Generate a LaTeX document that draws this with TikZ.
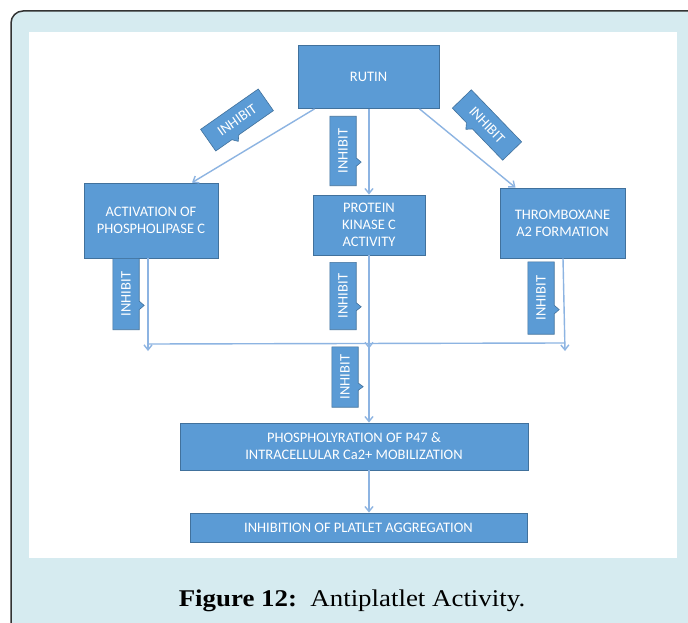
\documentclass[tikz,border=0pt]{standalone}
\usepackage{fontspec}
\setmainfont{Liberation Serif}
\newfontfamily\boxfont{Carlito}
\newfontfamily\capfont[FakeStretch=1.12]{Liberation Serif}
\usetikzlibrary{calc,arrows.meta}

\definecolor{panelbg}{HTML}{D6EBF0}
\definecolor{boxfill}{HTML}{5B9BD5}
\definecolor{boxline}{HTML}{41719C}
\definecolor{flowline}{HTML}{8DB4E2}

\tikzset{
  stepbox/.style={draw=boxline, fill=boxfill, line width=0.8pt, text=white,
    font=\boxfont\fontsize{14.5}{17}\selectfont, align=center, inner sep=2pt},
  inhgeom/.style={minimum width=#1, minimum height=26pt, inner sep=0pt,
    font=\boxfont\fontsize{14.5}{16}\selectfont, text=white},
  inhshape/.style={draw=boxline, fill=boxfill, line width=0.6pt},
  flow/.style={draw=flowline, line width=1.4pt},
  flowarrow/.style={flow, -{Straight Barb[length=5pt,width=8pt]}},
}

% an INHIBIT callout: name, centre, rotation, length
\newcommand\inhibitcallout[4]{%
  \coordinate (#1) at (#2);
  \node[inhgeom=#4, rotate=#3] (#1-box) at (#1) {};
  \draw[inhshape]
    (#1-box.south west)
    -- ($(#1-box.south west)!0.28!(#1-box.south east)$)
    -- ($($(#1-box.south west)!0.34!(#1-box.south east)$)!5pt!-90:(#1-box.south east)$)
    -- ($(#1-box.south west)!0.40!(#1-box.south east)$)
    -- (#1-box.south east) -- (#1-box.north east) -- (#1-box.north west) -- cycle;
  \node[inhgeom=#4, rotate=#3] (#1-text) at (#1) {INHIBIT};
}

\begin{document}
\begin{tikzpicture}[x=1pt,y=-1pt]
  \useasboundingbox (0,0) rectangle (688,623);

  % panel and white drawing area
  \draw[fill=panelbg, draw=black!80, line width=1.5pt, rounded corners=12pt]
    (11,11) rectangle (720,660);
  \fill[white] (29,32) rectangle (677,558);

  % process boxes
  \node[stepbox, minimum width=141pt, minimum height=63pt] (rutin) at (368.5,77) {RUTIN};
  \node[stepbox, minimum width=134pt, minimum height=75pt] (plc) at (151,220.5)
    {ACTIVATION OF\\PHOSPHOLIPASE C};
  \node[stepbox, minimum width=112pt, minimum height=60pt] (pkc) at (369,225)
    {PROTEIN\\KINASE C\\ACTIVITY};
  \node[stepbox, minimum width=125pt, minimum height=70pt] (txa) at (562.5,223)
    {THROMBOXANE\\A2 FORMATION};
  \node[stepbox, minimum width=348pt, minimum height=47pt] (p47) at (354,446.5)
    {PHOSPHOLYRATION OF P47 \&\\INTRACELLULAR Ca2+ MOBILIZATION};
  \node[stepbox, minimum width=337pt, minimum height=29pt] (platelet) at (358.5,527.5)
    {INHIBITION OF PLATLET AGGREGATION};

  % junction points
  \coordinate (jl) at (148,344);
  \coordinate (jr) at (565,343);
  \coordinate (jm) at (369,343.5);

  % arrows leaving RUTIN
  \draw[flowarrow] ([xshift=-54pt]rutin.south) -- ([xshift=41pt]plc.north);
  \draw[flowarrow] ([xshift=0.5pt]rutin.south) -- (pkc.north);
  \draw[flowarrow] ([xshift=51pt]rutin.south) -- ([xshift=-47pt]txa.north);

  % arrows down to the collecting line
  \draw[flowarrow] ([xshift=-3pt]plc.south) -- ([yshift=-7pt]jl);
  \draw[flowarrow] (pkc.south) -- ([yshift=-5pt]jm);
  \draw[flowarrow] ([xshift=0.5pt]txa.south) -- ([yshift=-8pt]jr);
  \draw[flow] (jl) -- (jr);

  % arrows to the lower boxes
  \draw[flowarrow] (jm) -- (p47.north -| jm);
  \draw[flowarrow] (p47.south -| jm) -- (platelet.north -| jm);

  % INHIBIT callouts
  \inhibitcallout{i1}{237,120}{35}{70pt}
  \inhibitcallout{i2}{343,151}{90}{69pt}
  \inhibitcallout{i3}{487,125}{-46}{72pt}
  \inhibitcallout{i4}{126,294}{90}{71pt}
  \inhibitcallout{i5}{343,296}{90}{67pt}
  \inhibitcallout{i6}{541,298}{90}{72pt}
  \inhibitcallout{i7}{345,377}{90}{60pt}

  % caption
  \node[font=\capfont\fontsize{24}{28}\selectfont, anchor=center] (caption) at (352,601)
    {\textbf{Figure 12:}\ \ Antiplatlet Activity.};
\end{tikzpicture}
\end{document}
